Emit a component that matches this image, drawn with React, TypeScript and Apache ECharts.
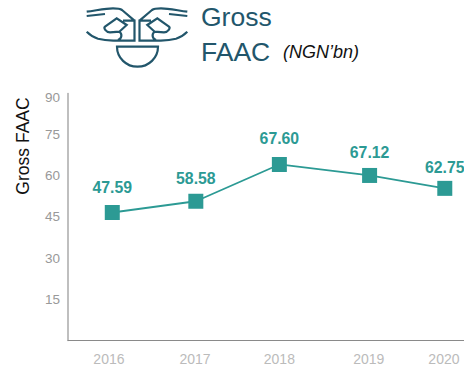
import React, { useEffect, useRef } from "react";
import * as echarts from "echarts";

// Horizontal positions of the years on the (unevenly spaced) axis of the picture
const yearPositions = [2016, 2017, 2018, 2019.08, 2019.98];
const yearLabelPositions = [2015.96, 2016.99, 2018, 2019.07, 2019.97];
// Heights of the points as drawn
const plottedValues = [46.6, 50.7, 64.1, 60.1, 55.4];
// Values as printed above the points
const printedLabels = ["47.59", "58.58", "67.60", "67.12", "62.75"];
const labelLifts = [25, 22.5, 26, 22.5, 20.5];
const yTickPositions = [15, 30, 45, 60, 75, 88.6];

const TEAL = "#2c9a94";
const INK = "#22566b";
const FONT = "'Liberation Sans', Arial, sans-serif";

const handPath =
  "M86.7 11.7 C96 10.5 106 8.3 113 8.3 C117 8.3 120 8.5 122 10 L134.5 20.7 " +
  "M86.7 16 L105 14 " +
  "M123 20.7 H134.5 V40.7 H113.3 " +
  "M105 26.7 L116.7 18.3 L126.7 25 L119.3 31.7 L110 32.3 C105.5 32.3 103.5 28 105 26.7 Z " +
  "M119.3 31.7 C122.5 34 122 38.5 118 40 " +
  "M86.7 31.7 C90 35 94 37.5 98 38.7 C103 40 108 40.5 113.3 40.7";
const bowlPath = "M117 46.7 H158 A20.5 20 0 0 1 117 46.7 Z";

echarts.graphic.registerShape("hand", echarts.graphic.extendPath(handPath, {}));
echarts.graphic.registerShape("bowl", echarts.graphic.extendPath(bowlPath, {}));

export default function App() {
  const ref = useRef<HTMLDivElement>(null);
  useEffect(() => {
    document.body.style.margin = "0";
    const chart = echarts.init(ref.current!, null, { renderer: "svg" });
    const iconStyle = { fill: "none", stroke: INK, lineWidth: 2.2 };
    chart.setOption({
      animation: false,
      backgroundColor: "#ffffff",
      grid: { left: 68, right: 0, top: 93.4, bottom: 28.6 },
      xAxis: {
        type: "value",
        min: 2015.47,
        max: 2020.21,
        splitLine: { show: false },
        axisLine: { show: true, onZero: false, lineStyle: { color: "#8a8a8a", width: 1 } },
        axisTick: { show: false },
        axisLabel: {
          customValues: yearLabelPositions,
          formatter: (v: number) => String(Math.round(v)),
          color: "#bbbbbb",
          fontSize: 14,
          fontFamily: FONT,
          margin: 12,
          showMinLabel: true,
          showMaxLabel: true,
        },
      },
      yAxis: {
        type: "value",
        min: 0,
        max: 90,
        splitLine: { show: false },
        axisLine: { show: true, lineStyle: { color: "#aaaaaa", width: 1.5 } },
        axisTick: { show: false },
        axisLabel: {
          customValues: yTickPositions,
          formatter: (v: number) => String(Math.round(v / 15) * 15),
          color: "#999999",
          fontSize: 13.5,
          fontFamily: FONT,
          margin: 8,
        },
      },
      series: [
        {
          type: "line",
          data: yearPositions.map((x, i) => ({
            value: [x, plottedValues[i]],
            label: {
              show: true,
              formatter: printedLabels[i],
              position: "inside",
              offset: [0, -labelLifts[i]],
              color: TEAL,
              fontSize: 15.8,
              fontWeight: "bold",
              fontFamily: FONT,
            },
          })),
          symbol: "rect",
          symbolSize: 15,
          itemStyle: { color: TEAL },
          lineStyle: { color: TEAL, width: 1.8 },
        },
      ],
      graphic: [
        { type: "hand", x: 0, y: 0, style: iconStyle },
        { type: "hand", x: 274, y: 0, scaleX: -1, style: iconStyle },
        { type: "bowl", x: 0, y: 0, style: iconStyle },
        {
          type: "text", left: 201, top: 3,
          style: { text: "Gross", fill: INK, fontSize: 26.5, fontFamily: FONT },
        },
        {
          type: "text", left: 201, top: 38,
          style: { text: "FAAC", fill: INK, fontSize: 26.5, fontFamily: FONT },
        },
        {
          type: "text", left: 283, top: 43,
          style: { text: "(NGN’bn)", fill: "#111111", fontSize: 18, fontStyle: "italic", fontFamily: FONT },
        },
        {
          type: "text",
          x: 23,
          y: 146,
          rotation: Math.PI / 2,
          style: {
            text: "Gross FAAC",
            fill: "#111111",
            fontSize: 17.5,
            fontFamily: FONT,
            align: "center",
            verticalAlign: "middle",
          },
        },
      ],
    });
    return () => chart.dispose();
  }, []);
  return <div ref={ref} style={{ width: 464, height: 369 }} />;
}
